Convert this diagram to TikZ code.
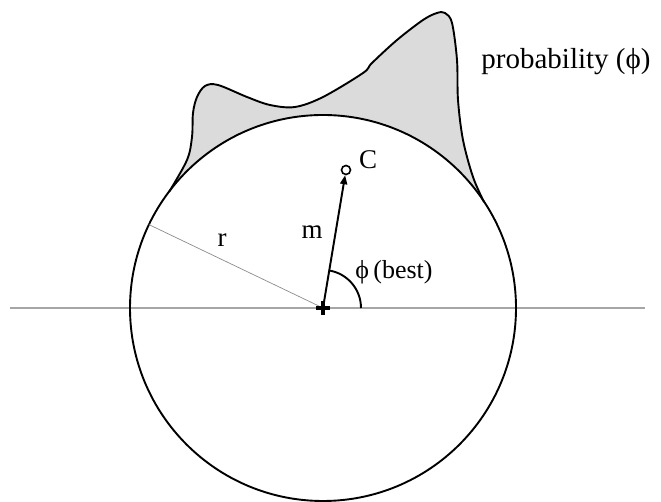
\documentclass[tikz,border=0pt]{standalone}
\usepackage{fontspec}
\setmainfont{Liberation Serif}
\usetikzlibrary{arrows.meta, positioning, calc}

\begin{document}
\begin{tikzpicture}[
            x=1pt, y=1pt,
            lbl/.style={font=\fontsize{27}{31}\selectfont, inner sep=0pt},
            axis/.style={draw=black!35, line width=1.5pt},
            radline/.style={draw=black!45, line width=0.7pt},
            rim/.style={draw=black, line width=1.9pt},
            arr/.style={-{Triangle[length=9pt,width=7pt]}, line width=1.9pt}
        ]
            \useasboundingbox (0,0) rectangle (661,502);
            \coordinate (O) at (323,194);

            % probability around the circle
            \fill[black!14] plot[smooth, tension=0.55] coordinates {(169,310) (187,342) (192,365) (193,389) (197,405) (205,416) (218,417) (247,405) (270,397) (295,395) (323,405) (363,429) (372,439) (397,462) (423,482) (437,489) (445,489) (452,479) (457,442) (458,402) (463,362) (473,325) (484,300)}
                arc[start angle=33.5, end angle=143, radius=193] -- cycle;
            \draw[rim] plot[smooth, tension=0.55] coordinates {(169,310) (187,342) (192,365) (193,389) (197,405) (205,416) (218,417) (247,405) (270,397) (295,395) (323,405) (363,429) (372,439) (397,462) (423,482) (437,489) (445,489) (452,479) (457,442) (458,402) (463,362) (473,325) (484,300)};

            \coordinate (hl) at (10,194);
            \coordinate (hr) at (645,194);
            \draw[axis] (hl) -- (hr);
            \draw[rim] (O) circle[radius=193];

            \coordinate (rimpt) at ($(O)+(154.4:193)$);
            \draw[radline] (rimpt) -- (O);

            \node[circle, draw, line width=1.6pt, inner sep=0pt, minimum size=9pt] (c) at (346,332) {};
            \draw[arr] (O) -- (c);
            \draw[line width=1.9pt] ($(O)+(38,0)$) arc[start angle=0, end angle=80.5, radius=38];
            \draw[line width=3.2pt] ($(O)+(-7,0)$) -- ($(O)+(7,0)$) ($(O)+(0,-7)$) -- ($(O)+(0,7)$);

            \node[lbl] (clbl) at (368,342) {C};
            \node[lbl] (mlbl) at (312,270) {m};
            \node[lbl] (rlbl) at (222,262) {r};
            \node[lbl, font=\fontsize{26}{30}\selectfont] (philbl) at (394,230) {ϕ\,(best)};
            \node[lbl, font=\fontsize{29}{33}\selectfont] (problbl) at (566,440) {probability (ϕ)};
        \end{tikzpicture}
\end{document}
